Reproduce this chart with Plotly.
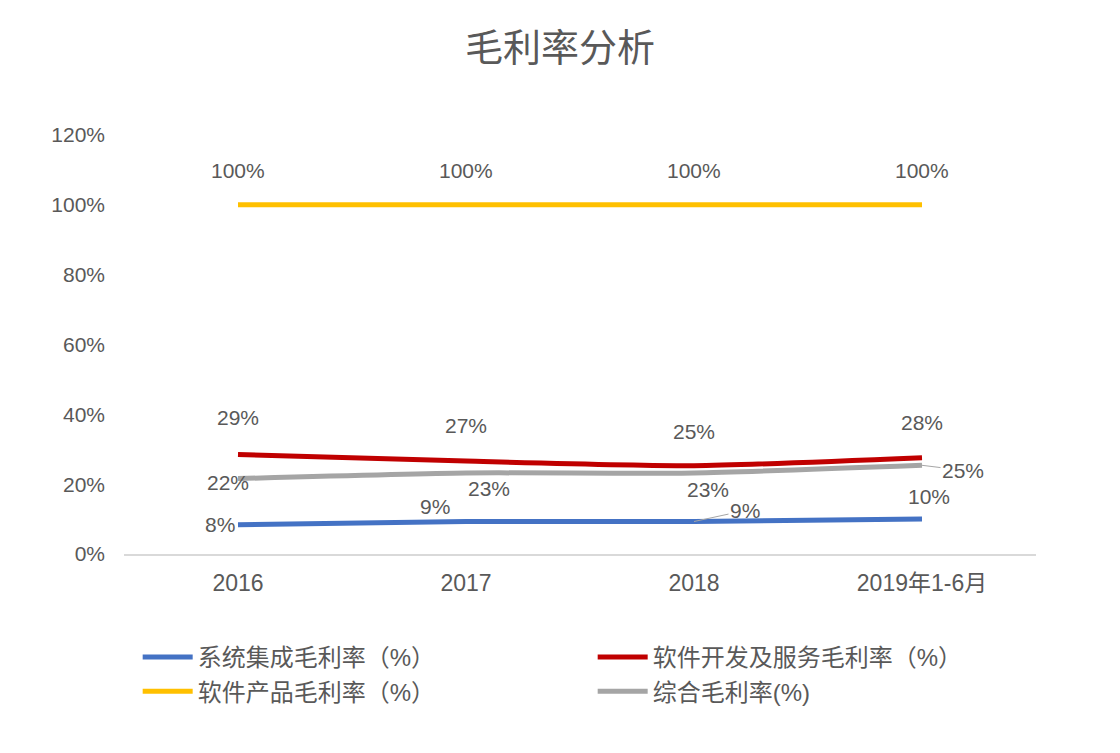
import plotly.graph_objects as go

categories = ["2016", "2017", "2018", "2019年1-6月"]
series_names = ["系统集成毛利率（%）", "软件开发及服务毛利率（%）", "软件产品毛利率（%）", "综合毛利率(%)"]
system_integration = [0.084, 0.093, 0.093, 0.100]
software_dev = [0.285, 0.266, 0.253, 0.276]
software_product = [1.0, 1.0, 1.0, 1.0]
overall = [0.216, 0.232, 0.232, 0.254]
y_ticks = [0, 0.2, 0.4, 0.6, 0.8, 1.0, 1.2]
labels = {
    0: ["8%", "9%", "9%", "10%"],
    1: ["29%", "27%", "25%", "28%"],
    2: ["100%", "100%", "100%", "100%"],
    3: ["22%", "23%", "23%", "25%"],
}

colors = ["#4472C4", "#C00000", "#FFC000", "#A5A5A5"]
FONT = "Liberation Sans, Noto Sans CJK SC, sans-serif"
TXT = "#595959"

fig = go.Figure()
all_series = [system_integration, software_dev, software_product, overall]
for name, vals, col in zip(series_names, all_series, colors):
    fig.add_trace(go.Scatter(
        x=categories, y=vals, name=name, mode="lines",
        line=dict(color=col, width=5, shape="spline", smoothing=0.6),
        hoverinfo="skip",
    ))

# label offsets (xshift, yshift) per series/point
offsets = {
    0: [(-18, 0), (-31, 15), (51, 11), (7, 23)],
    1: [(0, 37), (0, 36), (0, 34), (0, 35)],
    2: [(0, 34), (0, 34), (0, 34), (0, 34)],
    3: [(-10, -4), (23, -16), (14, -17), (41, -5)],
}
leaders = {(0, 2), (3, 3)}
for si, vals in enumerate(all_series):
    for pi, v in enumerate(vals):
        dx, dy = offsets[si][pi]
        txt = labels[si][pi]
        if (si, pi) in leaders:
            fig.add_annotation(
                x=pi, y=v, text=txt, showarrow=True,
                arrowhead=0, arrowwidth=1, arrowcolor="#A6A6A6",
                ax=dx, ay=-dy, font=dict(family=FONT, size=21, color=TXT),
            )
        else:
            fig.add_annotation(
                x=pi, y=v, text=txt, showarrow=False,
                xshift=dx, yshift=dy, font=dict(family=FONT, size=21, color=TXT),
            )

fig.update_layout(
    width=1120, height=753,
    margin=dict(l=124, r=84, t=135, b=199),
    paper_bgcolor="white", plot_bgcolor="white",
    title=dict(text="毛利率分析", x=0.5, xanchor="center", y=0.937, yanchor="middle",
               font=dict(family=FONT, size=38, color=TXT)),
    font=dict(family=FONT, color=TXT),
    showlegend=True,
    legend=dict(orientation="h", x=0.015, xanchor="left", y=-0.193, yanchor="top",
                entrywidth=390, entrywidthmode="pixels",
                font=dict(family=FONT, size=24, color=TXT), itemwidth=50,
                tracegroupgap=0),
)
fig.update_xaxes(
    type="category", range=[-0.5, 3.5], showgrid=False, showline=True,
    linecolor="#D9D9D9", linewidth=1.5, ticks="", zeroline=False,
    tickfont=dict(family=FONT, size=23, color=TXT), ticklabelstandoff=8,
)
fig.update_yaxes(
    range=[0, 1.2], tickvals=y_ticks, tickformat=".0%", showgrid=False,
    zeroline=False, showline=False, ticks="",
    tickfont=dict(family=FONT, size=21, color=TXT), ticklabelstandoff=18,
)

fig.write_html("out.html")
